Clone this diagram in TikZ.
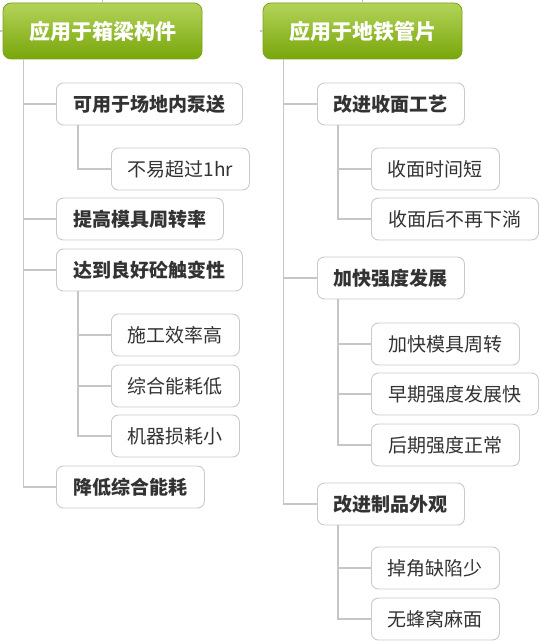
\documentclass[tikz,border=0pt]{standalone}
\usepackage{fontspec}
\usepackage{tikz}
\newfontfamily\cjk{Noto Sans CJK SC}
\definecolor{TitleTop}{HTML}{B4D35A}
\definecolor{TitleBottom}{HTML}{78A60A}
\definecolor{TitleEdge}{HTML}{7BA516}
\definecolor{BoxEdge}{HTML}{C9C9C9}
\definecolor{BoxText}{HTML}{333333}
\definecolor{LinkGray}{HTML}{C6C6C6}

\begin{document}
\begin{tikzpicture}[x=1pt, y=-1pt, font=\cjk,
        titlebox/.style={draw=TitleEdge, line width=0.8, rounded corners=8,
            top color=TitleTop, bottom color=TitleBottom, text=white,
            minimum height=56, font=\cjk\bfseries\fontsize{21}{24}\selectfont},
        mainbox/.style={draw=BoxEdge, line width=0.9, rounded corners=7, fill=white,
            minimum height=42, text=BoxText, font=\cjk\bfseries\fontsize{19}{22}\selectfont},
        leafbox/.style={mainbox, font=\cjk\fontsize{19}{22}\selectfont},
        branch/.style={draw=LinkGray, line width=1.2}]
        \useasboundingbox (0,0) rectangle (540,644);
        % left column
        \node[titlebox, minimum width=199] (g1) at (102.5,31) {应用于箱梁构件};
        \coordinate (g1top) at (102.5,0);
        \coordinate (g1left) at (0,31);
        \draw[branch] (g1.north) -- (g1top);
        \draw[branch] (g1.west) -- (g1left);
        \foreach \t/\y/\w [count=\i] in {可用于场地内泵送/104/186, 提高模具周转率/219/167,
                达到良好砼触变性/270/186, 降低综合能耗/487/148} {
            \node[mainbox, minimum width=\w, anchor=west] (a\i) at (56,\y) {\t};
            \draw[branch] ([xshift=21]g1.south west) |- (a\i.west);
        }
        \node[leafbox, minimum width=138, anchor=west] (a1x) at (111,169) {不易超过1hr};
        \draw[branch] ([xshift=22]a1.south west) |- (a1x.west);
        \foreach \t/\y [count=\i] in {施工效率高/335, 综合能耗低/386, 机器损耗小/436} {
            \node[leafbox, minimum width=128, anchor=west] (a3\i) at (111,\y) {\t};
            \draw[branch] ([xshift=22]a3.south west) |- (a3\i.west);
        }
        % right column
        \node[titlebox, minimum width=199] (g2) at (362.5,31) {应用于地铁管片};
        \coordinate (g2top) at (362.5,0);
        \coordinate (g2left) at (260,31);
        \draw[branch] (g2.north) -- (g2top);
        \draw[branch] (g2.west) -- (g2left);
        \foreach \t/\y [count=\i] in {改进收面工艺/104, 加快强度发展/278, 改进制品外观/504} {
            \node[mainbox, minimum width=147, anchor=west] (b\i) at (317,\y) {\t};
            \draw[branch] ([xshift=21]g2.south west) |- (b\i.west);
        }
        \foreach \t/\y/\w [count=\i] in {收面时间短/169/128, 收面后不再下淌/219/167} {
            \node[leafbox, minimum width=\w, anchor=west] (b1\i) at (371,\y) {\t};
            \draw[branch] ([xshift=21]b1.south west) |- (b1\i.west);
        }
        \foreach \t/\y/\w [count=\i] in {加快模具周转/344/148, 早期强度发展快/394/167, 后期强度正常/445/148} {
            \node[leafbox, minimum width=\w, anchor=west] (b2\i) at (371,\y) {\t};
            \draw[branch] ([xshift=21]b2.south west) |- (b2\i.west);
        }
        \foreach \t/\y [count=\i] in {掉角缺陷少/568, 无蜂窝麻面/619} {
            \node[leafbox, minimum width=128, anchor=west] (b3\i) at (371,\y) {\t};
            \draw[branch] ([xshift=21]b3.south west) |- (b3\i.west);
        }
    \end{tikzpicture}
\end{document}
